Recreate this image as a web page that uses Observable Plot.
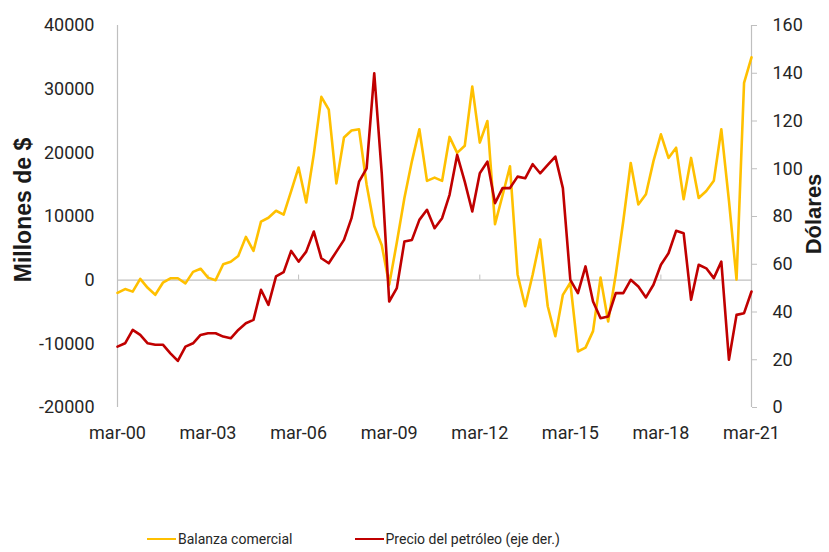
<!DOCTYPE html>
<html>
<head>
<meta charset="utf-8">
<script src="https://cdn.jsdelivr.net/npm/d3@7"></script>
<script src="https://cdn.jsdelivr.net/npm/@observablehq/plot@0.6"></script>
<style>
  body { margin: 0; background: #fff; }
  #chart { position: relative; width: 829px; height: 552px; font-family: Roboto, "Open Sans", sans-serif; color: #262626; }
  .ytitle { position: absolute; transform: translate(-50%, -50%) rotate(-90deg); white-space: nowrap;
            font-family: "Liberation Sans", Arial, sans-serif; font-weight: bold; color: #1a1a1a; }
  .legend { position: absolute; left: 147px; top: 529px; height: 20px; display: flex; align-items: center;
            font-family: Roboto, sans-serif; font-size: 14px; color: #262626; }
  .legend .item { display: flex; align-items: center; }
  .legend .sw { width: 29px; height: 2.5px; margin-right: 2px; }
</style>
</head>
<body>
<div id="chart"></div>
<script>
// Quarterly categories (mar-00 ... mar-21)
const tickLabels = ["mar-00", "mar-03", "mar-06", "mar-09", "mar-12", "mar-15", "mar-18", "mar-21"];
const seriesNames = ["Balanza comercial", "Precio del petróleo (eje der.)"];
const seriesColors = ["#FFC000", "#C00000"];

// Balanza comercial (millones de $), left axis
const balanza = [
  -2000, -1400, -1800, 200, -1200, -2300, -400, 300, 300, -500,
  1300, 1800, 400, 0, 2500, 2900, 3800, 6800, 4600, 9200,
  9800, 10900, 10300, 14000, 17700, 12200, 19800, 28800, 26800, 15200,
  22400, 23500, 23700, 15000, 8500, 5500, -700, 5900, 12900, 18700,
  23700, 15600, 16100, 15600, 22500, 20000, 21100, 30400, 21600, 25000,
  8800, 13300, 17900, 900, -4100, 900, 6400, -4100, -8800, -2300,
  -400, -11200, -10600, -8000, 400, -6500, 900, 9300, 18400, 11900,
  13500, 18700, 22900, 19200, 20800, 12700, 19200, 12900, 14000, 15600,
  23700, 12500, 100, 31000, 35000
];

// Precio del petróleo (dólares), right axis
const petroleo = [
  25.5, 26.9, 32.5, 30.4, 26.9, 26.3, 26.3, 22.7, 19.5, 25.5,
  26.9, 30.4, 31.1, 31.1, 29.7, 29.0, 32.5, 35.3, 36.7, 49.3,
  43.0, 54.9, 56.7, 65.6, 61.1, 65.3, 73.7, 62.5, 60.4, 65.3,
  70.2, 79.3, 94.6, 100.2, 140.0, 98.0, 44.4, 50.0, 69.5, 70.2,
  78.6, 82.8, 75.1, 79.3, 89.1, 105.8, 94.6, 82.1, 98.1, 103.0,
  85.6, 91.9, 91.9, 96.7, 96.0, 101.9, 98.1, 101.6, 105.1, 91.9,
  53.5, 47.9, 59.1, 44.4, 37.4, 38.1, 47.9, 47.9, 53.5, 50.7,
  46.1, 51.4, 59.8, 64.6, 74.0, 73.0, 45.1, 59.8, 58.3, 54.2,
  61.1, 20.0, 38.8, 39.5, 48.6
];

const leftDomain = [-20000, 40000];
const rightDomain = [0, 160];
const leftTicks = d3.range(-20000, 40001, 10000);
const rightTicks = d3.range(0, 161, 20);

// map right-axis values into left-axis units
const r2l = v => leftDomain[0] + (v - rightDomain[0]) * (leftDomain[1] - leftDomain[0]) / (rightDomain[1] - rightDomain[0]);
const l2r = v => rightDomain[0] + (v - leftDomain[0]) * (rightDomain[1] - rightDomain[0]) / (leftDomain[1] - leftDomain[0]);

const quarters = balanza.map((_, i) => new Date(Date.UTC(2000, 2 + 3 * i, 1)));
const tickDates = tickLabels.map((_, k) => quarters[k * 12]);
const labelOf = new Map(tickDates.map((d, k) => [+d, tickLabels[k]]));

const rows = quarters.map((q, i) => ({ q, balanza: balanza[i], petroleo: r2l(petroleo[i]) }));

const grey = "#bfbfbf";

const plot = Plot.plot({
  width: 829,
  height: 470,
  marginTop: 25,
  marginBottom: 63,
  marginLeft: 117,
  marginRight: 78,
  style: { fontFamily: "Roboto, 'Open Sans', sans-serif", fontSize: "18px", color: "#262626", background: "transparent" },
  x: { type: "utc", domain: [quarters[0], quarters[quarters.length - 1]] },
  y: { domain: leftDomain },
  marks: [
    Plot.ruleY([0], { stroke: grey, strokeWidth: 1.2 }),
    Plot.ruleX(tickDates, { y1: 0, y2: 800, stroke: grey, strokeWidth: 1 }),
    Plot.ruleX([quarters[0]], { stroke: grey, strokeWidth: 1.2 }),
    Plot.ruleX([quarters[quarters.length - 1]], { stroke: grey, strokeWidth: 1.2 }),
    Plot.axisY(leftTicks, { anchor: "left", tickSize: 0, tickPadding: 23, tickFormat: d => String(d), label: null, fontSize: 18 }),
    Plot.axisY(rightTicks.map(r2l), { anchor: "right", tickSize: 5, tickPadding: 16, stroke: grey,
      tickFormat: d => String(Math.round(l2r(d))), label: null, fontSize: 18 }),
    Plot.axisX(tickDates, { anchor: "bottom", tickSize: 0, tickPadding: 19, tickFormat: d => labelOf.get(+d), label: null, fontSize: 18 }),
    Plot.lineY(rows, { x: "q", y: "balanza", stroke: seriesColors[0], strokeWidth: 2.6, strokeLinejoin: "round" }),
    Plot.lineY(rows, { x: "q", y: "petroleo", stroke: seriesColors[1], strokeWidth: 2.6, strokeLinejoin: "round" })
  ]
});

const chart = document.getElementById("chart");
chart.appendChild(plot);

const t1 = document.createElement("div");
t1.className = "ytitle";
t1.style.left = "23px"; t1.style.top = "210px"; t1.style.fontSize = "23px";
t1.textContent = "Millones de $";
chart.appendChild(t1);

const t2 = document.createElement("div");
t2.className = "ytitle";
t2.style.left = "814px"; t2.style.top = "214px"; t2.style.fontSize = "22px";
t2.textContent = "Dólares";
chart.appendChild(t2);

const lg = document.createElement("div");
lg.className = "legend";
seriesNames.forEach((name, k) => {
  const it = document.createElement("div");
  it.className = "item";
  if (k > 0) it.style.marginLeft = "62px";
  const sw = document.createElement("span");
  sw.className = "sw";
  sw.style.background = seriesColors[k];
  const tx = document.createElement("span");
  tx.textContent = name;
  it.appendChild(sw); it.appendChild(tx);
  lg.appendChild(it);
});
chart.appendChild(lg);
</script>
</body>
</html>
